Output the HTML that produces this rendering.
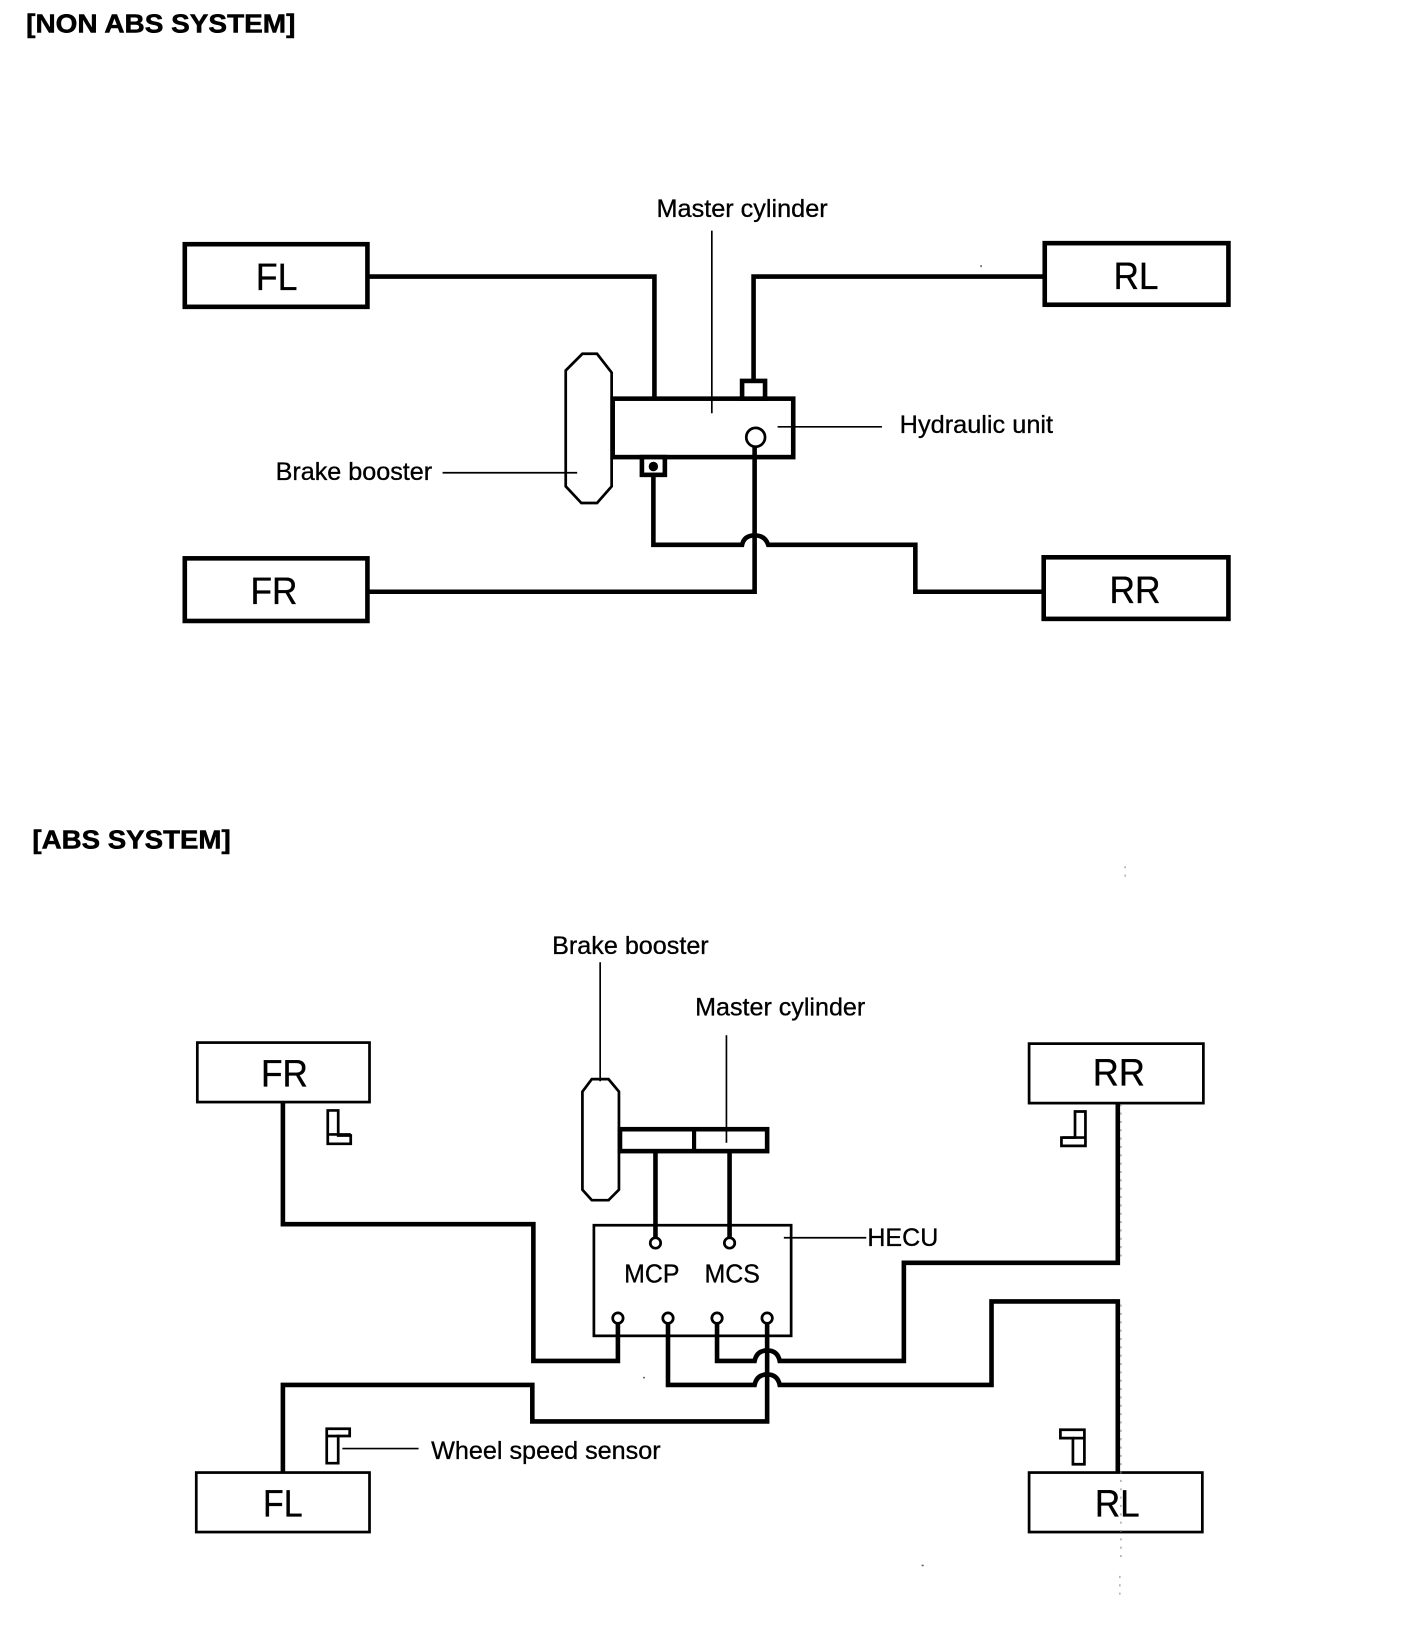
<!DOCTYPE html>
<html><head><meta charset="utf-8"><style>
html,body{margin:0;padding:0;background:#fff}
svg{display:block}
text{font-family:"Liberation Sans",sans-serif;fill:#000;stroke:#000;stroke-width:.3}
.t{font-size:24.5px;font-weight:700;stroke-width:.5}
.l{font-size:24px}
.b{font-size:36px}
.m{font-size:25px}
.w{fill:none;stroke:#000;stroke-width:4.4;stroke-linejoin:miter}
.n{fill:none;stroke:#000;stroke-width:1.6}
.o{fill:none;stroke:#000;stroke-width:2.6}
.k{fill:#fff;stroke:#000;stroke-width:4.4}
.h{fill:#fff;stroke:#000;stroke-width:2.6}
</style></head><body>
<svg width="1408" height="1636" viewBox="0 0 1349 1567.6" xmlns="http://www.w3.org/2000/svg">
<rect width="1350" height="1569" fill="#fff"/>
<text class="t" x="25" y="31" textLength="258" lengthAdjust="spacingAndGlyphs">[NON ABS SYSTEM]</text>
<rect class="k" x="177" y="234" width="175" height="60"/>
<rect class="k" x="1001" y="233" width="176" height="59"/>
<rect class="k" x="177" y="535" width="175" height="60"/>
<rect class="k" x="1000" y="534" width="177" height="59"/>
<text class="b" x="245" y="278" textLength="40" lengthAdjust="spacingAndGlyphs">FL</text>
<text class="b" x="1067" y="277" textLength="43" lengthAdjust="spacingAndGlyphs">RL</text>
<text class="b" x="240" y="579" textLength="45" lengthAdjust="spacingAndGlyphs">FR</text>
<text class="b" x="1063" y="578" textLength="49" lengthAdjust="spacingAndGlyphs">RR</text>
<path class="w" d="M352 265H627V382"/>
<path class="w" d="M1001 265H722V365"/>
<path class="h" d="M558 339H572L586 357V466L572 482H557L542 466V355Z"/>
<rect class="k" x="587" y="382" width="173" height="56"/>
<rect class="k" x="711" y="365" width="22" height="17"/>
<rect class="k" x="615" y="438" width="22" height="17"/>
<circle cx="626" cy="447" r="4.5" fill="#000"/>
<circle class="o" cx="724" cy="419" r="9" fill="#fff"/>
<path class="w" d="M723 428V567H352"/>
<path class="w" d="M626 455V522H711Q713 513 723 513Q733 513 736 522H877V567H1000"/>
<path class="n" d="M682 221V396M745 409H845M424 453H553"/>
<text class="l" x="629" y="208" textLength="164" lengthAdjust="spacingAndGlyphs">Master cylinder</text>
<text class="l" x="862" y="415" textLength="147" lengthAdjust="spacingAndGlyphs">Hydraulic unit</text>
<text class="l" x="264" y="460" textLength="150" lengthAdjust="spacingAndGlyphs">Brake booster</text>

<text class="t" x="31" y="813" textLength="190" lengthAdjust="spacingAndGlyphs">[ABS SYSTEM]</text>
<rect class="h" x="189" y="999" width="165" height="57"/>
<rect class="h" x="986" y="1000" width="167" height="57"/>
<rect class="h" x="188" y="1411" width="166" height="57"/>
<rect class="h" x="986" y="1411" width="166" height="57"/>
<text class="b" x="250" y="1041" textLength="45" lengthAdjust="spacingAndGlyphs">FR</text>
<text class="b" x="1047" y="1040" textLength="50" lengthAdjust="spacingAndGlyphs">RR</text>
<text class="b" x="252" y="1453" textLength="38" lengthAdjust="spacingAndGlyphs">FL</text>
<text class="b" x="1049" y="1453" textLength="43" lengthAdjust="spacingAndGlyphs">RL</text>
<rect class="h" x="569" y="1174" width="189" height="106"/>
<path class="h" d="M567 1034H583L593 1046V1140L583 1150H567L558 1140V1046Z"/>
<rect class="k" x="594" y="1082" width="141" height="21"/>
<path d="M665 1082V1103" stroke="#000" stroke-width="4"/>
<path class="w" d="M628 1103V1186M699 1103V1186"/>
<circle class="o" cx="628" cy="1191" r="5" fill="#fff"/>
<circle class="o" cx="699" cy="1191" r="5" fill="#fff"/>
<path class="w" d="M271 1056V1173H511V1304H592V1268"/>
<path class="w" d="M687 1268V1304H723Q725 1294 735 1294Q745 1294 747 1304H866V1210H1071V1057"/>
<path class="w" d="M640 1268V1327H723Q725 1317 735 1317Q745 1317 747 1327H950V1247H1071V1411"/>
<path class="w" d="M735 1268V1362H510V1327H271V1411"/>
<circle class="o" cx="592" cy="1263" r="5" fill="#fff"/>
<circle class="o" cx="640" cy="1263" r="5" fill="#fff"/>
<circle class="o" cx="687" cy="1263" r="5" fill="#fff"/>
<circle class="o" cx="735" cy="1263" r="5" fill="#fff"/>
<path class="n" d="M575 922V1036M696 992V1095M751 1186H830M328 1388H401"/>
<path class="o" d="M314 1064H324V1088H336V1096H314Z"/>
<path class="o" d="M314 1087H336"/>
<path class="o" d="M1030 1065H1040V1098H1017V1090H1030Z"/>
<path class="o" d="M1018 1090H1040"/>
<path class="o" d="M313 1369H335V1376H324V1402H313Z"/>
<path class="o" d="M313 1376H324"/>
<path class="o" d="M1016 1370H1039V1403H1028V1378H1016Z"/>
<path class="o" d="M1028 1378H1039"/>
<text class="l" x="529" y="914" textLength="150" lengthAdjust="spacingAndGlyphs">Brake booster</text>
<text class="l" x="666" y="973" textLength="163" lengthAdjust="spacingAndGlyphs">Master cylinder</text>
<text class="l" x="831" y="1194" textLength="68" lengthAdjust="spacingAndGlyphs">HECU</text>
<text class="m" x="598" y="1229" textLength="53" lengthAdjust="spacingAndGlyphs">MCP</text>
<text class="m" x="675" y="1229" textLength="53" lengthAdjust="spacingAndGlyphs">MCS</text>
<text class="l" x="413" y="1398" textLength="220" lengthAdjust="spacingAndGlyphs">Wheel speed sensor</text>
<path d="M1074 1058V1210M1074 1250V1495M1073 1510V1530M1078 830V845" stroke="#888" stroke-width="1" stroke-dasharray="2 6" fill="none"/>
<path d="M883 1500h2M616 1320h2M940 254v2" stroke="#666" stroke-width="1.5" fill="none"/>
</svg>
</body></html>
